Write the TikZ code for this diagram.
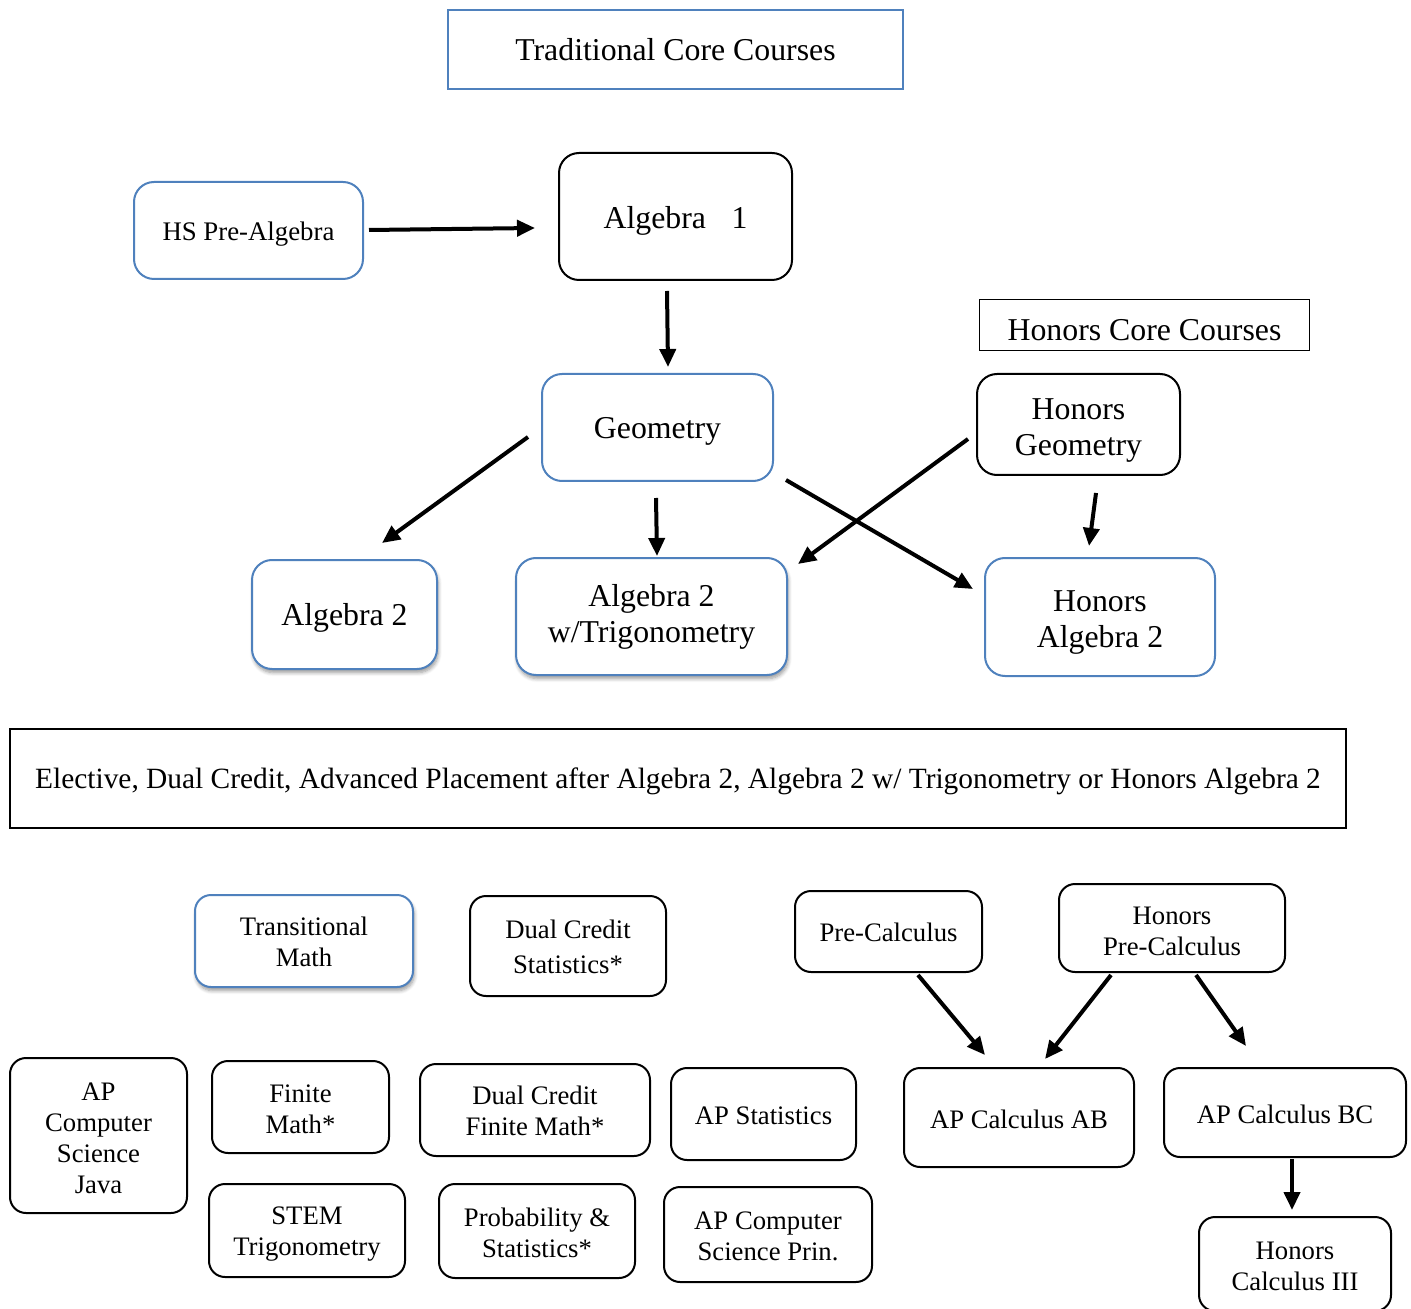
\documentclass[tikz,border=0pt]{standalone}
\usepackage{fontspec}
\setmainfont{Liberation Serif}
\usetikzlibrary{arrows.meta, shadows.blur}
\definecolor{boxblue}{RGB}{79,129,189}
\newcommand{\bigtxt}{\fontsize{15.9}{18}\selectfont}
\newcommand{\midtxt}{\fontsize{13.4}{15.5}\selectfont}
\newcommand{\smalltxt}{\fontsize{13.35}{15.5}\selectfont}
\newcommand{\drop}[1]{\rule{0pt}{#1}}

\begin{document}
\begin{tikzpicture}[
  x=0.5pt, y=-0.5pt,
  wh/.style 2 args={minimum width=#1*0.5pt, minimum height=#2*0.5pt},
  box/.style={draw, line width=1pt, rounded corners=10pt, align=center,
              inner sep=0pt, fill=white, font=\bigtxt},
  bluebox/.style={box, draw=boxblue},
  small/.style={box, rounded corners=8pt, font=\smalltxt},
  title/.style={draw, line width=1pt, inner sep=0pt, font=\bigtxt},
  shade/.style={blur shadow={shadow xshift=0.6pt, shadow yshift=-1.8pt,
                shadow blur steps=6, shadow opacity=40}},
  arr/.style={-{Triangle[length=9pt,width=8pt]}, line width=2pt}
]
\useasboundingbox (0,0) rectangle (1411,1309);

\node[title, draw=boxblue, wh={455}{79}] (trad) at (675.5,49.5) {Traditional Core Courses};
\node[bluebox, wh={229}{97}, font=\midtxt] (hs) at (248.5,230.5) {\drop{13.2pt}HS Pre-Algebra};
\node[box, wh={233}{127}] (alg1) at (675.5,216.5) {\drop{15.9pt}Algebra\hspace{0.8em}1};
\node[title, line width=0.8pt, wh={330}{51}] (hon) at (1144.5,325) {\drop{15.8pt}Honors Core Courses};
\node[bluebox, wh={231}{107}] (geo) at (657.5,427.5) {\drop{14.8pt}Geometry};
\node[box, wh={203}{101}] (hgeo) at (1078.5,424.5) {\drop{16.5pt}Honors\\Geometry};
\node[bluebox, shade, wh={185}{109}] (alg2) at (344.5,614.5) {\drop{14.9pt}Algebra 2};
\node[bluebox, shade, wh={271}{117}] (alg2t) at (651.5,616.5) {Algebra 2\\w/Trigonometry};
\node[bluebox, wh={230}{118}] (halg2) at (1100,617) {\drop{16pt}Honors\\Algebra 2};

\node[title, wh={1336}{99}, font=\fontsize{14.7}{17}\selectfont] (elect) at (678,778.5)
  {\drop{13pt}Elective, Dual Credit, Advanced Placement after Algebra 2, Algebra 2 w/ Trigonometry or Honors Algebra 2};

\node[small, draw=boxblue, shade, wh={218}{92}] (trans) at (304,941) {\drop{10.6pt}Transitional\\Math};
\node[small, wh={196}{100}] (dcstat) at (568,946) {\drop{10.1pt}Dual Credit\\[2pt]Statistics*};
\node[small, wh={187}{81}] (precalc) at (888.5,931.5) {\drop{10.1pt}Pre-Calculus};
\node[small, wh={226}{88}] (hprecalc) at (1172,928) {\drop{11.8pt}Honors\\Pre-Calculus};
\node[small, wh={177}{155}] (apcsj) at (98.5,1135.5) {\drop{11.8pt}AP\\Computer\\Science\\Java};
\node[small, wh={177}{92}] (finite) at (300.5,1107) {\drop{11.6pt}Finite\\Math*};
\node[small, wh={230}{92}] (dcfinite) at (535,1110) {\drop{10.6pt}Dual Credit\\Finite Math*};
\node[small, wh={185}{92}] (apstat) at (763.5,1114) {\drop{11.1pt}AP Statistics};
\node[small, wh={230}{99}] (apab) at (1019,1117.5) {\drop{11.1pt}AP Calculus AB};
\node[small, wh={242}{89}] (apbc) at (1285,1112.5) {\drop{11.1pt}AP Calculus BC};
\node[small, wh={196}{93}] (stem) at (307,1230.5) {\drop{12.8pt}STEM\\Trigonometry};
\node[small, wh={196}{94}] (prob) at (537,1231) {\drop{11.1pt}Probability \&\\Statistics*};
\node[small, wh={208}{95}] (apcsp) at (768,1234.5) {\drop{11pt}AP Computer\\Science Prin.};
\node[small, wh={192}{94}] (hcalc) at (1295,1264) {\drop{11.3pt}Honors\\Calculus III};

\draw[arr] ([shift={(5,-0.5)}]hs.east) -- ([shift={(-23,11.5)}]alg1.west);
\draw[arr] ([shift={(-8.5,10)}]alg1.south) -- ([shift={(10.5,-6)}]geo.north);
\draw[arr] ([shift={(-13,9.5)}]geo.west) -- ([shift={(37.5,-16)}]alg2.north);
\draw[arr] ([shift={(-1.5,16)}]geo.south) -- ([shift={(5.5,-1)}]alg2t.north);
\draw[arr] ([shift={(12,-2)}]geo.south east) -- ([shift={(-11,-28)}]halg2.west);
\draw[arr] ([shift={(-8,14.5)}]hgeo.west) -- ([shift={(10,7)}]alg2t.north east);
\draw[arr] ([shift={(17.5,17)}]hgeo.south) -- ([shift={(-11,-11)}]halg2.north);

\draw[arr] ([shift={(29.5,2)}]precalc.south) -- ([shift={(-34,-12)}]apab.north);
\draw[arr] ([shift={(-61,2)}]hprecalc.south) -- ([shift={(26,-8)}]apab.north);
\draw[arr] ([shift={(24,2)}]hprecalc.south) -- ([shift={(-39,-21)}]apbc.north);
\draw[arr] ([shift={(7,1)}]apbc.south) -- ([shift={(-3,-6)}]hcalc.north);
\end{tikzpicture}
\end{document}
